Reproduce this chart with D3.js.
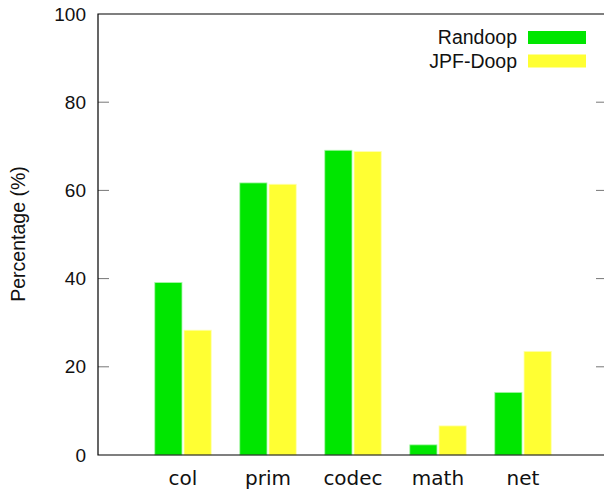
<!DOCTYPE html>
<html>
<head>
<meta charset="utf-8">
<style>
  body { margin: 0; background: #fff; }
  svg { display: block; }
  .tick-label { font: 19px "Liberation Sans", Arial, sans-serif; fill: #111; }
  .cat-label { font: 20px "DejaVu Sans", sans-serif; fill: #111; }
  .legend text { font: 19.5px "Liberation Sans", Arial, sans-serif; fill: #111; }
</style>
</head>
<body>
<div id="chart-area"></div>

<script src="https://cdnjs.cloudflare.com/ajax/libs/d3/7.8.5/d3.min.js"></script>
<script>
    const categories = ["col", "prim", "codec", "math", "net"];
    const randoop = [39.1, 61.7, 69.1, 2.3, 14.2];
    const jpfDoop = [28.3, 61.4, 68.8, 6.6, 23.5];
    const yTicks = [0, 20, 40, 60, 80, 100];
    const seriesNames = ["Randoop", "JPF-Doop"];

    const width = 604, height = 491;
    const plotLeft = 98, plotRight = 608, plotTop = 14, plotBottom = 455;

    const svg = d3.select("#chart-area")
        .append("svg")
            .attr("width", width)
            .attr("height", height);

    // gnuplot style: categories at 1..5, range 0..6
    const x = d3.scaleLinear().domain([0, categories.length + 1]).range([plotLeft, plotRight]);
    const y = d3.scaleLinear().domain([0, 100]).range([plotBottom, plotTop]);
    const colors = ["#00e600", "#ffff33"];
    const edges = ["#a8f5a8", "#ffffb0"];

    const series = [randoop, jpfDoop];
    const barW = 0.32;   // in category units
    const gap = 0.012;

    series.forEach((vals, s) => {
        svg.append("g").selectAll("rect")
            .data(vals)
            .enter().append("rect")
                .attr("x", (d, i) => s === 0 ? x(i + 1 - gap - barW) : x(i + 1 + gap))
                .attr("width", x(barW) - x(0))
                .attr("y", d => y(d))
                .attr("height", d => y(0) - y(d))
                .attr("fill", colors[s])
                .attr("stroke", edges[s])
                .attr("stroke-width", 0.8);
    });

    // left ticks + mirrored right ticks
    const tickG = svg.append("g");
    tickG.selectAll("line.l")
        .data(yTicks.slice(1, -1))
        .enter().append("line")
            .attr("x1", plotLeft).attr("x2", plotLeft + 11)
            .attr("y1", d => y(d)).attr("y2", d => y(d))
            .attr("stroke", "#777").attr("stroke-width", 1);
    tickG.selectAll("line.r")
        .data(yTicks.slice(1, -1))
        .enter().append("line")
            .attr("x1", plotRight - 12).attr("x2", plotRight)
            .attr("y1", d => y(d)).attr("y2", d => y(d))
            .attr("stroke", "#777").attr("stroke-width", 1);

    // frame
    svg.append("path")
        .attr("d", `M${plotRight},${plotTop}H${plotLeft}V${plotBottom}H${plotRight}`)
        .attr("fill", "none")
        .attr("stroke", "#000")
        .attr("stroke-width", 1.2);

    svg.append("g").selectAll("text")
        .data(yTicks)
        .enter().append("text")
            .attr("class", "tick-label")
            .attr("x", 86)
            .attr("y", d => y(d) + 6.5)
            .attr("text-anchor", "end")
            .text(d => d);

    svg.append("g").selectAll("text")
        .data(categories)
        .enter().append("text")
            .attr("class", "cat-label")
            .attr("x", (d, i) => x(i + 1))
            .attr("y", 485)
            .attr("text-anchor", "middle")
            .text(d => d);

    svg.append("text")
        .attr("class", "tick-label")
        .attr("transform", "translate(25,234) rotate(-90)")
        .attr("text-anchor", "middle")
        .style("font-size", "19.5px")
        .text("Percentage (%)");

    // legend
    const legend = svg.append("g").attr("class", "legend");
    seriesNames.forEach((name, s) => {
        const ly = 37.5 + s * 23.5;
        legend.append("text")
            .attr("x", 517).attr("y", ly + 6.5)
            .attr("text-anchor", "end")
            .text(name);
        legend.append("rect")
            .attr("x", 528).attr("y", ly - 6.5)
            .attr("width", 58).attr("height", 13)
            .attr("fill", colors[s]);
    });
</script>
</body>
</html>
